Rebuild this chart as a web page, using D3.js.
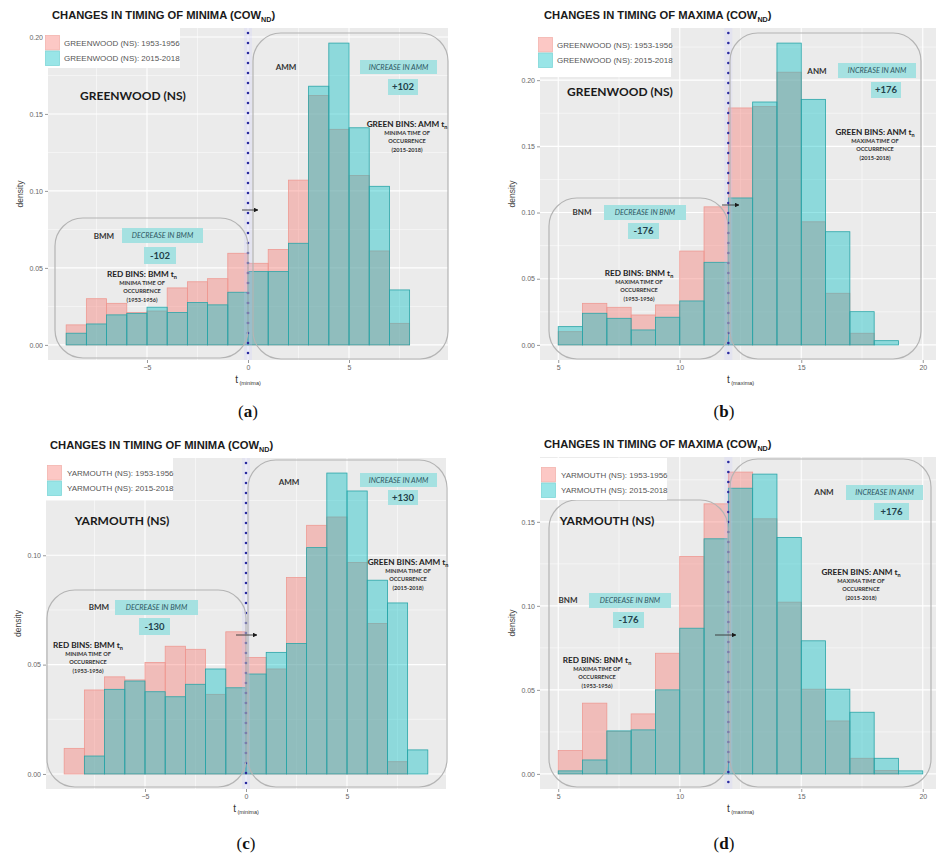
<!DOCTYPE html>
<html>
<head>
<meta charset="utf-8">
<script src="https://cdn.jsdelivr.net/npm/d3@7"></script>
<style>
  body { margin: 0; background: #fff; }
  svg { display: block; }
</style>
</head>
<body>
<svg id="fig" width="936" height="856"></svg>
<script>
// ---- bins (left edge of each unit-wide bin) ----
const minimaBinStarts = [-9, -8, -7, -6, -5, -4, -3, -2, -1, 0, 1, 2, 3, 4, 5, 6, 7, 8];
const maximaBinStarts = [5, 6, 7, 8, 9, 10, 11, 12, 13, 14, 15, 16, 17, 18, 19];
const binWidth = 1;

// ---- densities, Greenwood (NS) ----
const gwMinima1953 = [0.013, 0.030, 0.027, 0.021, 0.022, 0.037, 0.041, 0.043, 0.0595, 0.053, 0.062, 0.107, 0.162, 0.140, 0.110, 0.061, 0.014, 0];
const gwMinima2015 = [0.0076, 0.0136, 0.0195, 0.0205, 0.0245, 0.021, 0.0275, 0.026, 0.0342, 0.0476, 0.0476, 0.066, 0.168, 0.196, 0.141, 0.103, 0.0357, 0];
const gwMaxima1953 = [0.010, 0.0314, 0.0284, 0.0226, 0.0302, 0.0709, 0.1043, 0.179, 0.180, 0.206, 0.093, 0.039, 0.0088, 0, 0];
const gwMaxima2015 = [0.0138, 0.0239, 0.0201, 0.0113, 0.0209, 0.0332, 0.0624, 0.111, 0.1835, 0.228, 0.1855, 0.0855, 0.0251, 0.0032, 0];

// ---- densities, Yarmouth (NS) ----
const ymMinima1953 = [0.0117, 0.0384, 0.0444, 0.043, 0.051, 0.0584, 0.057, 0.0364, 0.065, 0.0533, 0.048, 0.0898, 0.1137, 0.1175, 0.0967, 0.0688, 0.0056, 0];
const ymMinima2015 = [0, 0.0082, 0.0387, 0.0425, 0.0376, 0.0353, 0.041, 0.048, 0.0394, 0.0457, 0.0556, 0.0597, 0.1035, 0.1376, 0.1294, 0.0886, 0.0782, 0.011];
const ymMaxima1953 = [0.0139, 0.0421, 0.0253, 0.0357, 0.0718, 0.1294, 0.1607, 0.1796, 0.1518, 0.1022, 0.0504, 0.0315, 0.0093, 0.002, 0];
const ymMaxima2015 = [0.0018, 0.0083, 0.0256, 0.0262, 0.05, 0.0867, 0.1399, 0.170, 0.1784, 0.1407, 0.0792, 0.0504, 0.0367, 0.0093, 0.0018];

// ---- axis ticks ----
const xTicksMinima = [-5, 0, 5];
const xTicksMaxima = [5, 10, 15, 20];
const yTicksGwMinima = [0, 0.05, 0.10, 0.15, 0.20];
const yTicksGwMaxima = [0, 0.05, 0.10, 0.15, 0.20];
const yTicksYmMinima = [0, 0.05, 0.10];
const yTicksYmMaxima = [0, 0.05, 0.10, 0.15];

// ---- split points (hours) between the two groups ----
const minimaSplit = 0;
const maximaSplit = 12;

// ---- labels ----
const periodLabels = ["1953-1956", "2015-2018"];
const changeMinimaGw = 102;
const changeMaximaGw = 176;
const changeMinimaYm = 130;
const changeMaximaYm = 176;

const COL_EARLY = "#F8766D";
const COL_LATE = "#00BFC4";
const SANS = "'Liberation Sans', Arial, sans-serif";
const NOTE = "Lato, 'Open Sans', sans-serif";

const svg = d3.select("#fig");
svg.append("rect").attr("width", 936).attr("height", 856).attr("fill", "#fff");

const defs = svg.append("defs");
defs.append("marker").attr("id", "arrowhead")
  .attr("viewBox", "0 0 10 10").attr("refX", 9).attr("refY", 5)
  .attr("markerWidth", 5.5).attr("markerHeight", 5.5).attr("orient", "auto")
  .append("path").attr("d", "M0,0 L10,5 L0,10 Z").attr("fill", "#1a1a1a");

const panels = [
  {
    letter: "a", kind: "MINIMA", station: "GREENWOOD", starts: minimaBinStarts,
    early: gwMinima1953, late: gwMinima2015, yTicks: yTicksGwMinima, xTicks: xTicksMinima,
    split: minimaSplit, sub: "(minima)", change: changeMinimaGw,
    frame: { x0: 48, x1: 448, y0: 28, y1: 360 },
    legend: { x: 43, y: 28, w: 137, h: 40, kx: 45, ky: 35, tx: 64 },
    caption: { x: 248, y: 417 },
    after: "AMM", before: "BMM", noteWord: "MINIMA",
    station_xy: [133, 100],
    leftBox: [55, 218, 193, 140], rightBox: [253, 33, 195, 326],
    upTag: [286, 70], incBox: [360, 60, 77, 14], incNum: [388, 79, 30, 16],
    green: [407, 127],
    lowTag: [104, 239], decBox: [122, 228, 81, 15], decNum: [144, 247, 32, 17],
    red: [142, 277],
    arrow: [242, 210, 258, 210]
  },
  {
    letter: "b", kind: "MAXIMA", station: "GREENWOOD", starts: maximaBinStarts,
    early: gwMaxima1953, late: gwMaxima2015, yTicks: yTicksGwMaxima, xTicks: xTicksMaxima,
    split: maximaSplit, sub: "(maxima)", change: changeMaximaGw,
    frame: { x0: 540, x1: 941, y0: 28, y1: 360 },
    legend: { x: 534, y: 28, w: 137, h: 49, kx: 538, ky: 37, tx: 557 },
    caption: { x: 724, y: 417 },
    after: "ANM", before: "BNM", noteWord: "MAXIMA",
    station_xy: [620, 96],
    leftBox: [549, 198, 179, 161], rightBox: [730, 33, 191, 326],
    upTag: [817, 74], incBox: [838, 63, 78, 15], incNum: [871, 82, 30, 16],
    green: [875, 135],
    lowTag: [582, 215], decBox: [604, 205, 82, 15], decNum: [628, 223, 31, 16],
    red: [639, 276],
    arrow: [722, 205, 739, 205]
  },
  {
    letter: "c", kind: "MINIMA", station: "YARMOUTH", starts: minimaBinStarts,
    early: ymMinima1953, late: ymMinima2015, yTicks: yTicksYmMinima, xTicks: xTicksMinima,
    split: minimaSplit, sub: "(minima)", change: changeMinimaYm,
    frame: { x0: 46, x1: 446, y0: 458, y1: 789 },
    legend: { x: 43, y: 458, w: 130, h: 42, kx: 47, ky: 465, tx: 67 },
    caption: { x: 246, y: 849 },
    after: "AMM", before: "BMM", noteWord: "MINIMA",
    station_xy: [122, 525],
    leftBox: [47, 590, 199, 197], rightBox: [248, 460, 199, 327],
    upTag: [289, 485], incBox: [360, 473, 77, 14], incNum: [388, 490, 30, 15],
    green: [408, 565],
    lowTag: [99, 610], decBox: [115, 600, 83, 15], decNum: [139, 618, 31, 17],
    red: [88, 648],
    arrow: [236, 635, 257, 635]
  },
  {
    letter: "d", kind: "MAXIMA", station: "YARMOUTH", starts: maximaBinStarts,
    early: ymMaxima1953, late: ymMaxima2015, yTicks: yTicksYmMaxima, xTicks: xTicksMaxima,
    split: maximaSplit, sub: "(maxima)", change: changeMaximaYm,
    frame: { x0: 540, x1: 941, y0: 457, y1: 789 },
    legend: { x: 537, y: 458, w: 130, h: 42, kx: 541, ky: 467, tx: 561 },
    caption: { x: 724, y: 849 },
    after: "ANM", before: "BNM", noteWord: "MAXIMA",
    station_xy: [607, 525],
    leftBox: [549, 500, 179, 287], rightBox: [730, 459, 201, 328],
    upTag: [824, 495], incBox: [846, 485, 77, 15], incNum: [874, 503, 35, 17],
    green: [861, 575],
    lowTag: [568, 603], decBox: [589, 593, 82, 15], decNum: [613, 612, 31, 16],
    red: [597, 663],
    arrow: [715, 635, 736, 635]
  }
];

function txt(g, x, y, s, o) {
  return g.append("text").attr("x", x).attr("y", y)
    .attr("text-anchor", o.anchor || "middle")
    .attr("font-family", o.family || NOTE)
    .attr("font-size", o.size)
    .attr("font-weight", o.weight || "normal")
    .attr("font-style", o.style || "normal")
    .attr("fill", o.fill || "#222")
    .text(s);
}

function minorBetween(ticks, domain) {
  const step = ticks[1] - ticks[0];
  const out = [];
  const lo = ticks[0] - step / 2, hi = ticks[ticks.length - 1] + step / 2;
  if (lo > domain[0]) out.push(lo);
  for (let i = 0; i < ticks.length - 1; i++) out.push((ticks[i] + ticks[i + 1]) / 2);
  if (hi < domain[1]) out.push(hi);
  return out;
}

function drawPanel(p) {
  const g = svg.append("g");
  const f = p.frame;
  const first = p.starts[0], last = p.starts[p.starts.length - 1] + binWidth;
  const pad = (last - first) * 0.05;
  const x = d3.scaleLinear().domain([first - pad, last + pad]).range([f.x0, f.x1]);
  const ymax = d3.max(p.early.concat(p.late));
  const y = d3.scaleLinear().domain([-0.05 * ymax, 1.05 * ymax]).range([f.y1, f.y0]);

  // panel background + grid
  g.append("rect").attr("x", f.x0).attr("y", f.y0).attr("width", f.x1 - f.x0).attr("height", f.y1 - f.y0).attr("fill", "#ebebeb");
  const grid = g.append("g").attr("stroke", "#fff");
  minorBetween(p.yTicks, y.domain()).forEach(v => grid.append("line").attr("x1", f.x0).attr("x2", f.x1).attr("y1", y(v)).attr("y2", y(v)).attr("stroke-width", 0.5));
  minorBetween(p.xTicks, x.domain()).forEach(v => grid.append("line").attr("y1", f.y0).attr("y2", f.y1).attr("x1", x(v)).attr("x2", x(v)).attr("stroke-width", 0.5));
  p.yTicks.forEach(v => grid.append("line").attr("x1", f.x0).attr("x2", f.x1).attr("y1", y(v)).attr("y2", y(v)).attr("stroke-width", 1.1));
  p.xTicks.forEach(v => grid.append("line").attr("y1", f.y0).attr("y2", f.y1).attr("x1", x(v)).attr("x2", x(v)).attr("stroke-width", 1.1));

  // histograms: earlier period below, later period on top
  [[p.early, COL_EARLY, "#ee9a93"], [p.late, COL_LATE, "#2aa5a8"]].forEach(([vals, fill, edge]) => {
    g.append("g").selectAll("rect").data(vals).join("rect")
      .attr("x", (d, i) => x(p.starts[i]))
      .attr("width", (d, i) => x(p.starts[i] + binWidth) - x(p.starts[i]))
      .attr("y", d => y(d))
      .attr("height", d => y(0) - y(d))
      .attr("fill", fill).attr("fill-opacity", 0.4)
      .attr("stroke", edge).attr("stroke-width", 0.8);
  });

  // axes
  const ya = g.append("g").attr("transform", `translate(${f.x0},0)`)
    .call(d3.axisLeft(y).tickValues(p.yTicks).tickFormat(d3.format(".2f")).tickSize(3).tickPadding(2));
  const xa = g.append("g").attr("transform", `translate(0,${f.y1})`)
    .call(d3.axisBottom(x).tickValues(p.xTicks).tickFormat(d3.format("d")).tickSize(3).tickPadding(2));
  [ya, xa].forEach(a => {
    a.select(".domain").remove();
    a.selectAll("line").attr("stroke", "#555").attr("stroke-width", 0.6);
    a.selectAll("text").attr("font-family", SANS).attr("font-size", 7).attr("fill", "#666");
  });

  // split line
  const xs = x(p.split);
  g.append("rect").attr("x", xs - 4).attr("y", f.y0).attr("width", 8).attr("height", f.y1 - f.y0)
    .attr("fill", "#c4c4ff").attr("opacity", 0.2);
  g.append("line").attr("x1", xs).attr("x2", xs).attr("y1", f.y0 + 5).attr("y2", f.y1)
    .attr("stroke", "#2a2aa0").attr("stroke-width", 2.6).attr("stroke-linecap", "round")
    .attr("stroke-dasharray", "0,10");

  // rounded group boxes
  [p.leftBox, p.rightBox].forEach(b => {
    g.append("rect").attr("x", b[0]).attr("y", b[1]).attr("width", b[2]).attr("height", b[3])
      .attr("rx", 28).attr("ry", 28).attr("fill", "none").attr("stroke", "#b4b4b4").attr("stroke-width", 1.2);
  });

  // shift arrow
  g.append("line").attr("x1", p.arrow[0]).attr("y1", p.arrow[1]).attr("x2", p.arrow[2]).attr("y2", p.arrow[3])
    .attr("stroke", "#333").attr("stroke-width", 0.9).attr("marker-end", "url(#arrowhead)");

  // station name
  txt(g, p.station_xy[0], p.station_xy[1], `${p.station} (NS)`, { size: 12, weight: "bold", fill: "#1a1a1a" });

  // tags + tinted boxes
  function tagBox(b, s, o) {
    g.append("rect").attr("x", b[0]).attr("y", b[1]).attr("width", b[2]).attr("height", b[3]).attr("fill", "#a5e1e1");
    txt(g, b[0] + b[2] / 2, b[1] + b[3] / 2 + o.size * 0.36, s, o);
  }
  txt(g, p.upTag[0], p.upTag[1], p.after, { size: 8, weight: "bold", fill: "#333" });
  tagBox(p.incBox, `INCREASE IN ${p.after}`, { size: 7.3, style: "italic", fill: "#2d5662" });
  tagBox(p.incNum, `+${p.change}`, { size: 9.5, weight: "bold", fill: "#23404a" });
  txt(g, p.lowTag[0], p.lowTag[1], p.before, { size: 8, weight: "bold", fill: "#333" });
  tagBox(p.decBox, `DECREASE IN ${p.before}`, { size: 7.3, style: "italic", fill: "#2d5662" });
  tagBox(p.decNum, `-${p.change}`, { size: 9.5, weight: "bold", fill: "#23404a" });

  // bin notes
  function note(pos, head, period) {
    const t = txt(g, pos[0], pos[1], head, { size: 8.2, weight: "bold", fill: "#222" });
    t.append("tspan").attr("font-size", 5.5).attr("dy", 2).text("n");
    [`${p.noteWord} TIME OF`, "OCCURRENCE", `(${period})`].forEach((s, i) => {
      txt(g, pos[0], pos[1] + 8 + i * 8.3, s, { size: 5.6, weight: "bold", fill: "#333" });
    });
  }
  note(p.green, `GREEN BINS: ${p.after} t`, periodLabels[1]);
  note(p.red, `RED BINS: ${p.before} t`, periodLabels[0]);

  // legend
  const L = p.legend;
  g.append("rect").attr("x", L.x).attr("y", L.y).attr("width", L.w).attr("height", L.h).attr("fill", "#fff");
  [[COL_EARLY, "#f3b3ad"], [COL_LATE, "#7fd6d8"]].forEach(([c, e], i) => {
    g.append("rect").attr("x", L.kx + 0.5).attr("y", L.ky + i * 15.5 + 0.5).attr("width", 14).attr("height", 14.5)
      .attr("fill", c).attr("fill-opacity", 0.4).attr("stroke", e).attr("stroke-width", 0.8);
    txt(g, L.tx, L.ky + i * 15.5 + 10.5, `${p.station} (NS): ${periodLabels[i]}`,
      { family: SANS, size: 8, anchor: "start", fill: "#555" });
  });

  // title
  const tt = g.append("text").attr("x", f.x0 + 4).attr("y", f.y0 - 9)
    .attr("font-family", SANS).attr("font-size", 11.2).attr("font-weight", "bold").attr("fill", "#1a1a1a")
    .text(`CHANGES IN TIMING OF ${p.kind} (COW`);
  tt.append("tspan").attr("font-size", 7.2).attr("dy", 2.5).text("ND");
  tt.append("tspan").attr("dy", -2.5).text(")");

  // axis titles
  g.append("text").attr("transform", `translate(${f.x0 - 25},${(f.y0 + f.y1) / 2}) rotate(-90)`)
    .attr("text-anchor", "middle").attr("font-family", SANS).attr("font-size", 8.5).attr("fill", "#444").text("density");
  const xt = g.append("text").attr("x", (f.x0 + f.x1) / 2).attr("y", f.y1 + 23)
    .attr("text-anchor", "middle").attr("font-family", SANS).attr("font-size", 10).attr("fill", "#333").text("t");
  xt.append("tspan").attr("font-size", 5.5).attr("dy", 2).text(" " + p.sub);

  // panel caption
  const cp = g.append("text").attr("x", p.caption.x).attr("y", p.caption.y).attr("text-anchor", "middle")
    .attr("font-family", "'Liberation Serif', 'DejaVu Serif', serif").attr("font-size", 17).attr("fill", "#111").text("(");
  cp.append("tspan").attr("font-weight", "bold").text(p.letter);
  cp.append("tspan").text(")");
}

panels.forEach(drawPanel);
</script>
</body>
</html>
